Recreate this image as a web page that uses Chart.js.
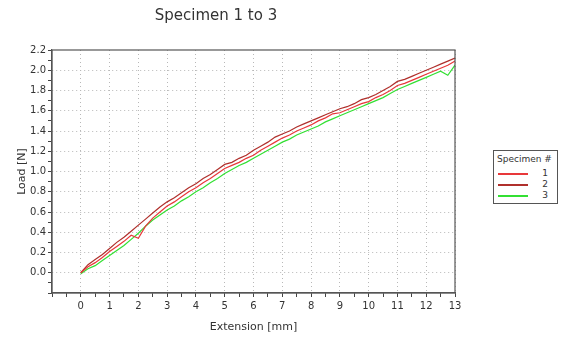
<!DOCTYPE html>
<html>
<head>
<meta charset="utf-8">
<script src="https://cdn.jsdelivr.net/npm/chart.js@4/dist/chart.umd.min.js"></script>
<style>
  html, body { margin: 0; padding: 0; background: #fff; }
  #wrap { position: relative; width: 565px; height: 338px; }
  #legend {
    position: absolute; left: 493px; top: 150px; width: 63px; height: 52px;
    border: 1px solid #555; background: #fff;
    font-family: 'DejaVu Sans', sans-serif; font-size: 9px; color: #333;
  }
  #legend .ttl { position: absolute; left: 3px; top: 3px; }
  #legend .row { position: absolute; left: 4px; width: 56px; height: 10px; }
  #legend .row span.ln { position: absolute; left: 0; top: 5px; width: 30px; height: 1.5px; }
  #legend .row span.num { position: absolute; right: 6px; top: 0; }
</style>
</head>
<body>
<div id="wrap">
  <canvas id="chart" width="565" height="338"></canvas>
  <div id="legend"></div>
</div>
<script>
const extension = [0, 0.25, 0.5, 0.75, 1, 1.25, 1.5, 1.75, 2, 2.25, 2.5, 2.75, 3, 3.25, 3.5, 3.75,
  4, 4.25, 4.5, 4.75, 5, 5.25, 5.5, 5.75, 6, 6.25, 6.5, 6.75, 7, 7.25, 7.5, 7.75,
  8, 8.25, 8.5, 8.75, 9, 9.25, 9.5, 9.75, 10, 10.25, 10.5, 10.75, 11, 11.25, 11.5, 11.75,
  12, 12.25, 12.5, 12.75, 13];

const specimen1 = [0.00, 0.06, 0.10, 0.15, 0.21, 0.26, 0.31, 0.37, 0.34, 0.46, 0.54, 0.60, 0.66, 0.70, 0.75, 0.80,
  0.84, 0.89, 0.93, 0.98, 1.03, 1.06, 1.09, 1.13, 1.16, 1.21, 1.25, 1.29, 1.33, 1.36, 1.40, 1.43,
  1.46, 1.50, 1.53, 1.57, 1.58, 1.61, 1.64, 1.67, 1.69, 1.73, 1.76, 1.80, 1.85, 1.87, 1.90, 1.93,
  1.96, 1.99, 2.02, 2.05, 2.09];

const specimen2 = [0.00, 0.08, 0.13, 0.18, 0.24, 0.30, 0.35, 0.41, 0.47, 0.53, 0.59, 0.65, 0.70, 0.74, 0.79, 0.84,
  0.88, 0.93, 0.97, 1.02, 1.07, 1.09, 1.13, 1.16, 1.21, 1.25, 1.29, 1.34, 1.37, 1.40, 1.44, 1.47,
  1.50, 1.53, 1.56, 1.59, 1.62, 1.64, 1.67, 1.71, 1.73, 1.76, 1.80, 1.84, 1.89, 1.91, 1.94, 1.97,
  2.00, 2.03, 2.06, 2.09, 2.12];

const specimen3 = [-0.01, 0.04, 0.07, 0.12, 0.17, 0.22, 0.27, 0.33, 0.39, 0.46, 0.52, 0.57, 0.62, 0.66, 0.71, 0.75,
  0.80, 0.84, 0.89, 0.93, 0.98, 1.02, 1.06, 1.09, 1.13, 1.17, 1.21, 1.25, 1.29, 1.32, 1.36, 1.39,
  1.42, 1.45, 1.49, 1.52, 1.55, 1.58, 1.61, 1.64, 1.67, 1.70, 1.73, 1.77, 1.81, 1.84, 1.87, 1.90,
  1.93, 1.96, 1.99, 1.95, 2.05];

const seriesNames = ['1', '2', '3'];
const seriesColors = ['#e8383a', '#b0302c', '#33e033'];

const FONT = 'DejaVu Sans';

function toPoints(ys) {
  return ys.map((y, i) => ({ x: extension[i], y: y }));
}

function isMajor(v, step) {
  const r = v / step;
  return Math.abs(r - Math.round(r)) < 1e-6;
}

// title and plot frame
const framePlugin = {
  id: 'frame',
  afterDraw(chart) {
    const ctx = chart.ctx;
    const a = chart.chartArea;
    ctx.save();
    ctx.strokeStyle = '#555';
    ctx.lineWidth = 1.2;
    ctx.strokeRect(a.left, a.top, a.right - a.left, a.bottom - a.top);
    ctx.fillStyle = '#333';
    ctx.font = '15px ' + FONT;
    ctx.textAlign = 'center';
    ctx.textBaseline = 'middle';
    ctx.fillText('Specimen 1 to 3', 216, 16);
    ctx.restore();
  }
};

const ctx = document.getElementById('chart').getContext('2d');
const chart = new Chart(ctx, {
  type: 'line',
  data: {
    datasets: [specimen1, specimen2, specimen3].map((d, i) => ({
      label: seriesNames[i],
      data: toPoints(d),
      borderColor: seriesColors[i],
      borderWidth: 1.2,
      pointRadius: 0,
      tension: 0,
      fill: false,
    })),
  },
  options: {
    responsive: false,
    animation: false,
    layout: { padding: { left: 12, right: 110, top: 50, bottom: 0 } },
    plugins: {
      legend: { display: false },
      tooltip: { enabled: false },
    },
    scales: {
      x: {
        type: 'linear',
        min: -1,
        max: 13,
        afterFit(scale) { scale.height = 45; },
        ticks: {
          stepSize: 0.5,
          autoSkip: false,
          maxRotation: 0,
          padding: 3,
          color: '#333',
          font: { family: FONT, size: 10 },
          callback: (v) => (v >= 0 && isMajor(v, 1) ? String(Math.round(v)) : ''),
        },
        grid: {
          color: (c) => (isMajor(c.tick.value, 1) && c.tick.value > -1 ? '#b8b8b8' : 'transparent'),
          tickColor: '#444',
          tickLength: 4,
        },
        border: { color: '#555', width: 1.2, dash: [1, 3] },
        title: {
          display: true,
          text: 'Extension [mm]',
          color: '#333',
          font: { family: FONT, size: 11 },
          padding: { top: 2, bottom: 4 },
        },
      },
      y: {
        min: -0.2,
        max: 2.2,
        afterFit(scale) { scale.width = 40; },
        ticks: {
          stepSize: 0.1,
          autoSkip: false,
          padding: 2,
          color: '#333',
          font: { family: FONT, size: 10 },
          callback: (v) => (v > -0.05 && isMajor(v, 0.2) ? Math.abs(v).toFixed(1) : ''),
        },
        grid: {
          color: (c) => (isMajor(c.tick.value, 0.2) && c.tick.value > -0.19 && c.tick.value < 2.19 ? '#b8b8b8' : 'transparent'),
          tickColor: '#444',
          tickLength: 4,
        },
        border: { color: '#555', width: 1.2, dash: [1, 3] },
        title: {
          display: true,
          text: 'Load [N]',
          color: '#333',
          font: { family: FONT, size: 11 },
          padding: { top: 4, bottom: 2 },
        },
      },
    },
  },
  plugins: [framePlugin],
});

// legend box
const legend = document.getElementById('legend');
let html = '<div class="ttl">Specimen #</div>';
seriesNames.forEach((name, i) => {
  html += '<div class="row" style="top:' + (17 + i * 11) + 'px">' +
    '<span class="ln" style="background:' + seriesColors[i] + '"></span>' +
    '<span class="num">' + name + '</span></div>';
});
legend.innerHTML = html;
</script>
</body>
</html>
